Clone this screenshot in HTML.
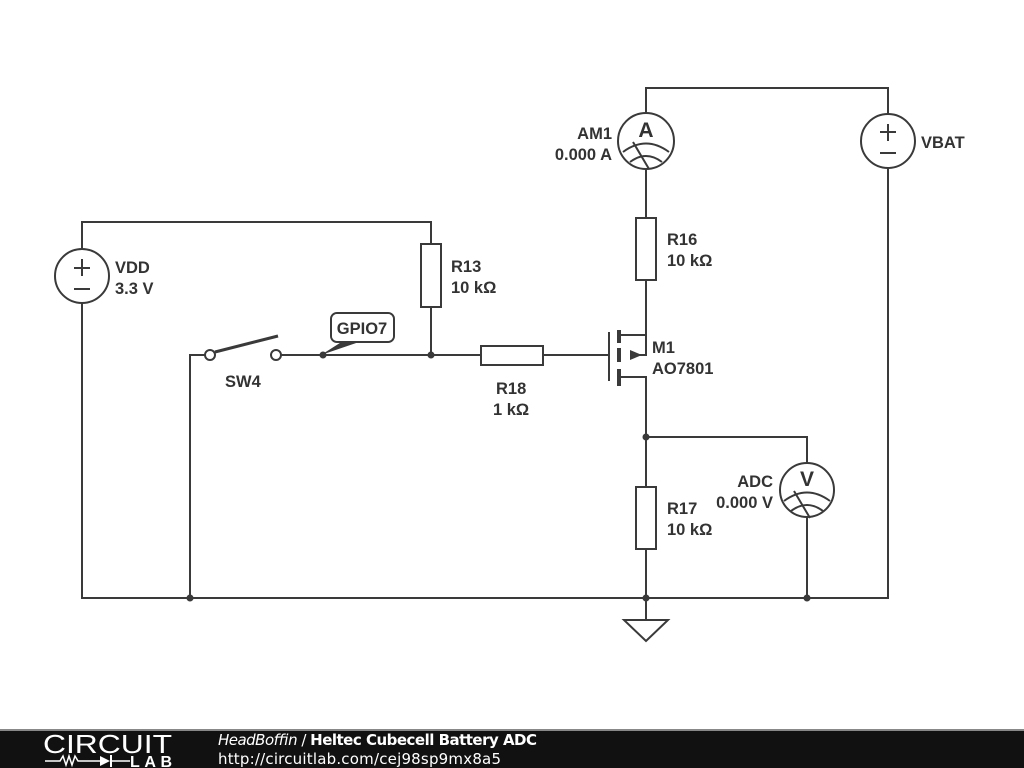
<!DOCTYPE html>
<html><head><meta charset="utf-8"><style>
html,body{margin:0;padding:0;background:#fff;width:1024px;height:768px;overflow:hidden}
svg{display:block}
text{font-family:"Liberation Sans",Arial,sans-serif}
.l{font-size:16.5px;font-weight:bold;fill:#333}
</style></head><body>
<svg width="1024" height="768" viewBox="0 0 1024 768">
<g stroke="#3a3a3a" stroke-width="2" fill="none">
<polyline points="82,249 82,222 431,222 431,244"/>
<rect x="421" y="244" width="20" height="63" fill="#fff"/>
<line x1="431" y1="307" x2="431" y2="355"/>
<polyline points="82,303 82,598 888,598 888,168"/>
<circle cx="82" cy="276" r="27"/>
<polyline points="190,598 190,355 205,355"/>
<circle cx="210" cy="355" r="5" fill="#fff"/>
<circle cx="276" cy="355" r="5" fill="#fff"/>
<line x1="215" y1="352" x2="278" y2="336" stroke-width="3"/>
<line x1="281" y1="355" x2="481" y2="355"/>
<rect x="481" y="346" width="62" height="19" fill="#fff"/>
<line x1="543" y1="355" x2="608" y2="355"/>
<line x1="609" y1="332" x2="609" y2="381"/>
<line x1="619" y1="330" x2="619" y2="343" stroke-width="4"/>
<line x1="619" y1="348" x2="619" y2="362" stroke-width="4"/>
<line x1="619" y1="369" x2="619" y2="386" stroke-width="4"/>
<polyline points="619,335 646,335 646,355 630,355"/>
<polyline points="619,377 646,377 646,487"/>
<line x1="646" y1="335" x2="646" y2="280"/>
<rect x="636" y="218" width="20" height="62" fill="#fff"/>
<line x1="646" y1="218" x2="646" y2="169"/>
<circle cx="646" cy="141" r="28"/>
<polyline points="646,113 646,88 888,88 888,114"/>
<circle cx="888" cy="141" r="27"/>
<rect x="636" y="487" width="20" height="62" fill="#fff"/>
<line x1="646" y1="549" x2="646" y2="620"/>
<polyline points="646,437 807,437 807,463"/>
<circle cx="807" cy="490" r="27"/>
<line x1="807" y1="517" x2="807" y2="598"/>
<polygon points="624,620 668,620 646,641"/>
<path d="M623,152 Q646,135 669,152 M630,162 Q646,150 662,162 M633,142 L649,169"/>
<path d="M784,501 Q807,484 830,501 M791,511 Q807,499 823,511 M794,491 L810,518"/>
<path d="M82,259 V276 M74,268 H90 M74,289 H90"/>
<path d="M888,124 V141 M880,132 H896 M880,153 H896"/>
<rect x="331" y="313" width="63" height="29" rx="6" fill="#fff"/>
</g>
<polygon points="630,350 642,355 630,360" fill="#3a3a3a"/>
<polygon points="321,355 343,341 362,341" fill="#3a3a3a"/>
<rect x="332" y="314" width="61" height="27" rx="5" fill="#fff"/>
<g fill="#3a3a3a">
<circle cx="323" cy="355" r="3.5"/><circle cx="431" cy="355" r="3.5"/>
<circle cx="190" cy="598" r="3.5"/><circle cx="646" cy="598" r="3.5"/>
<circle cx="807" cy="598" r="3.5"/><circle cx="646" cy="437" r="3.5"/>
</g>
<text x="646" y="137" text-anchor="middle" font-size="21" font-weight="bold" fill="#333">A</text>
<text x="807" y="486" text-anchor="middle" font-size="21" font-weight="bold" fill="#333">V</text>
<text x="362" y="334" text-anchor="middle" class="l">GPIO7</text>
<text x="115" y="273" class="l">VDD</text><text x="115" y="294" class="l">3.3 V</text>
<text x="451" y="272" class="l">R13</text><text x="451" y="293" class="l">10 kΩ</text>
<text x="225" y="387" class="l">SW4</text>
<text x="496" y="394" class="l">R18</text><text x="493" y="415" class="l">1 kΩ</text>
<text x="667" y="245" class="l">R16</text><text x="667" y="266" class="l">10 kΩ</text>
<text x="652" y="353" class="l">M1</text><text x="652" y="374" class="l">AO7801</text>
<text x="667" y="514" class="l">R17</text><text x="667" y="535" class="l">10 kΩ</text>
<text x="612" y="139" text-anchor="end" class="l">AM1</text><text x="612" y="160" text-anchor="end" class="l">0.000 A</text>
<text x="773" y="487" text-anchor="end" class="l">ADC</text><text x="773" y="508" text-anchor="end" class="l">0.000 V</text>
<text x="921" y="148" class="l">VBAT</text>
<rect x="0" y="729" width="1024" height="39" fill="#111"/>
<rect x="0" y="729" width="1024" height="2" fill="#888"/>
<text x="43" y="753" font-size="26" fill="#fff" textLength="129" lengthAdjust="spacingAndGlyphs">CIRCUIT</text>
<polyline points="45,761 60,761 63,756 66,765 69,756 72,765 75,756 78,761 100,761" stroke="#fff" stroke-width="1.5" fill="none"/>
<polygon points="100,756 110,761 100,766" fill="#fff"/><line x1="111" y1="755" x2="111" y2="767" stroke="#fff" stroke-width="2"/>
<line x1="111" y1="761" x2="130" y2="761" stroke="#fff" stroke-width="1.5"/>
<text x="130" y="767" font-size="16" font-weight="bold" fill="#fff" textLength="42">LAB</text>
<text x="218" y="745" font-size="15" fill="#fff" style="font-family:'DejaVu Sans',sans-serif" textLength="319"><tspan font-style="italic">HeadBoffin</tspan> / <tspan font-weight="bold">Heltec Cubecell Battery ADC</tspan></text>
<text x="218" y="764" font-size="15" fill="#fff" style="font-family:'DejaVu Sans',sans-serif" textLength="283">http://circuitlab.com/cej98sp9mx8a5</text>
</svg>
</body></html>
